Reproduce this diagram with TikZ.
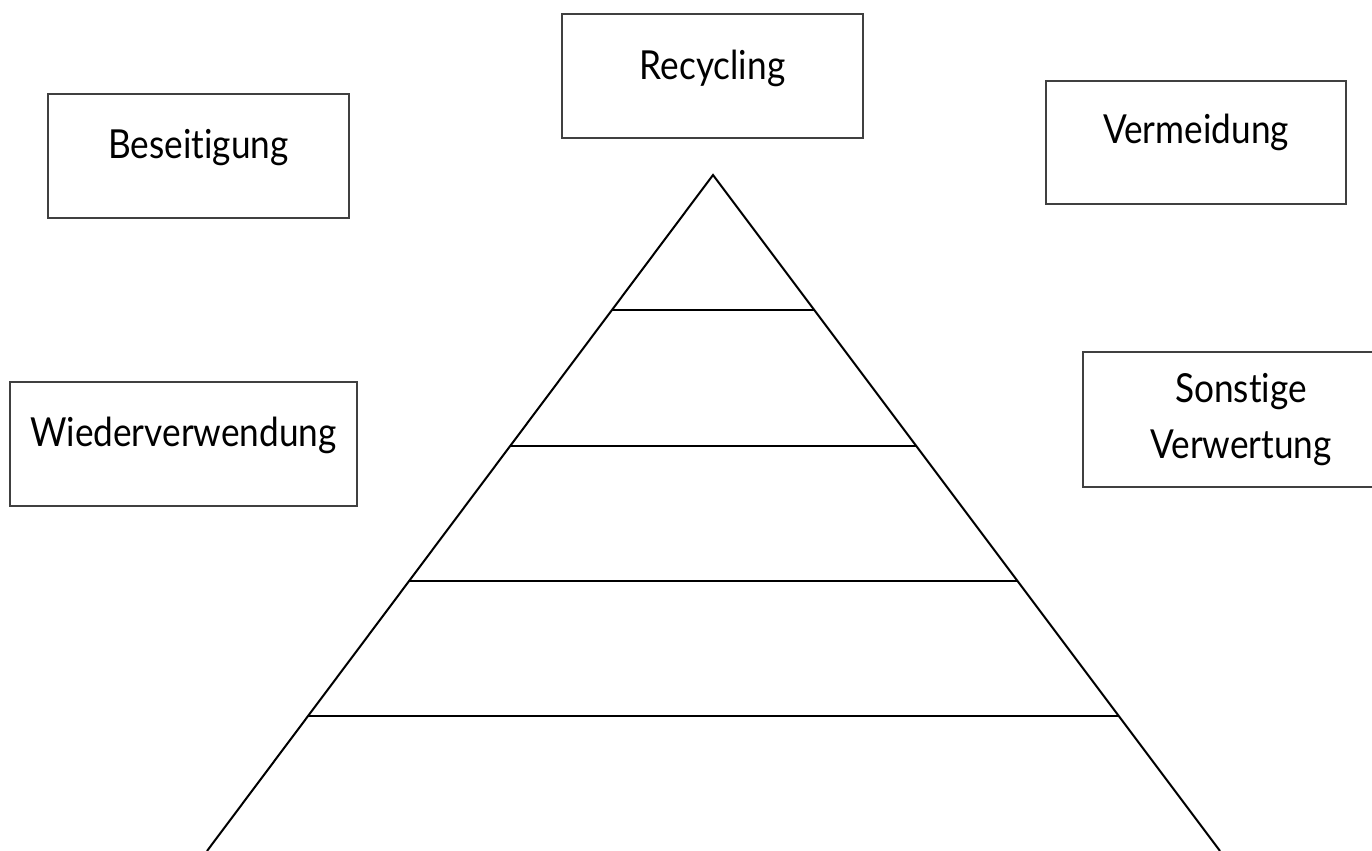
\documentclass[tikz,border=0pt]{standalone}
\usepackage{fontspec}
\setmainfont{Lato}[FakeStretch=0.88,Ligatures=NoCommon]
\usetikzlibrary{calc}
\begin{document}
\begin{tikzpicture}[x=0.5pt,y=-0.5pt,
  label box/.style={draw=black!75,line width=0.75pt,rectangle,inner sep=0pt,
    font=\fontsize{20}{28}\selectfont,text height=8pt,text depth=6pt},
  pyr/.style={draw=black,line width=1pt}]
\useasboundingbox (0,0) rectangle (1372,851);
\node[label box,minimum width=150.5pt,minimum height=62pt,text depth=5pt] (recycling) at (712.5,76) {Recycling};
\node[label box,minimum width=150.5pt,minimum height=62pt] (beseitigung) at (198.5,156) {Beseitigung};
\node[label box,minimum width=150pt,minimum height=61.5pt,text depth=7pt] (vermeidung) at (1196,142.5) {Vermeidung};
\node[label box,minimum width=173.5pt,minimum height=62pt] (wieder) at (183.5,444) {Wiederverwendung};
\node[label box,align=center,minimum width=158pt,minimum height=67.5pt,text height=40pt,text depth=1.5pt] (sonstige) at (1241,419.5) {Sonstige\\Verwertung};
\coordinate (apex) at (713,175);
\coordinate (bl) at (207,851);
\coordinate (br) at (1220,851);
\draw[pyr] (bl) -- (apex) -- (br);
\foreach \t/\n in {0.19970/a,0.40089/b,0.60059/c,0.80030/d}{
  \coordinate (l\n) at ($(apex)!\t!(bl)$);
  \coordinate (r\n) at ($(apex)!\t!(br)$);
  \draw[pyr] (l\n) -- (r\n);
}
\end{tikzpicture}
\end{document}
